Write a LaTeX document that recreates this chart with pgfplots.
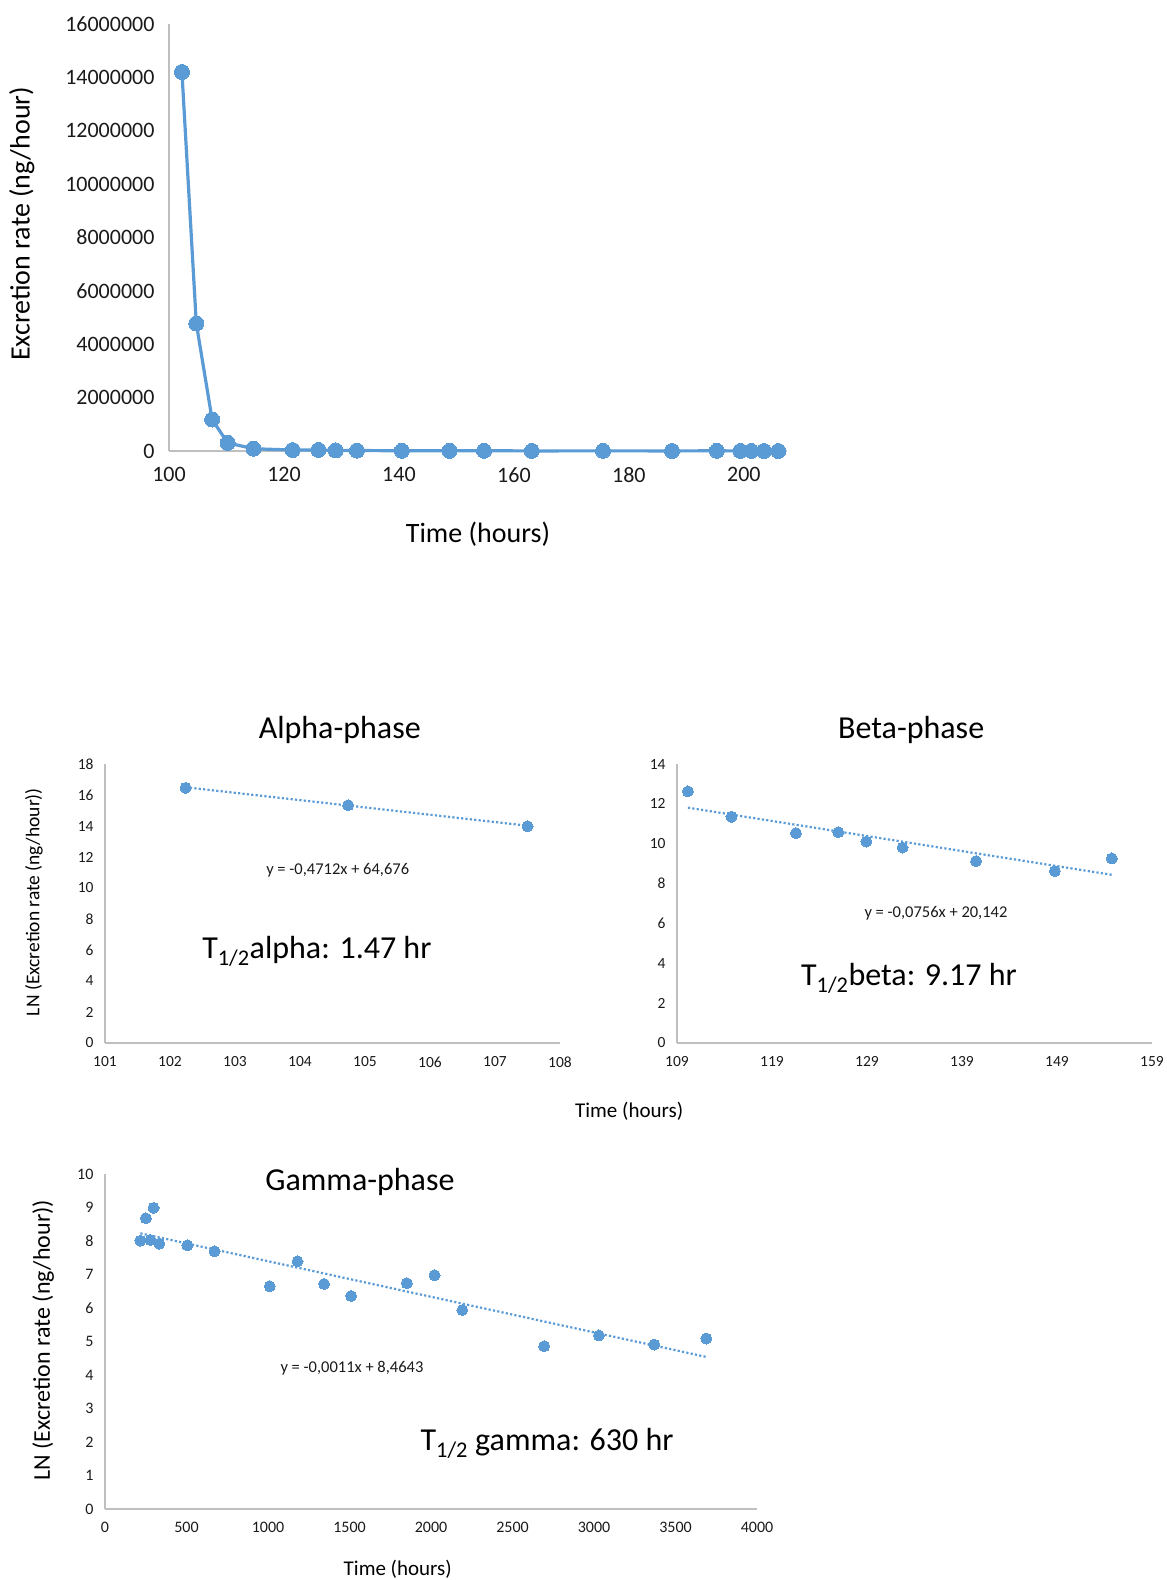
\documentclass[border=0pt]{standalone}
\usepackage{fontspec}
\setmainfont{Carlito}
\usepackage{pgfplots}
\pgfplotsset{compat=1.18}
\definecolor{xblue}{HTML}{5B9BD5}
\definecolor{xgray}{HTML}{BFBFBF}
\definecolor{xtext}{HTML}{1A1A1A}
\newcommand{\fs}[1]{\fontsize{#1}{#1}\selectfont}
\pgfplotsset{
  excel/.style={
    scale only axis,
    axis lines=left,
    axis line style={-, draw=xgray, line width=1.6pt},
    every inner x axis line/.append style={-},
    every outer x axis line/.append style={-},
    every inner y axis line/.append style={-},
    every outer y axis line/.append style={-},
    major tick length=0pt,
    tick style={draw=none},
    /pgf/number format/assume math mode=true,
    /pgf/number format/1000 sep={},
    scaled ticks=false,
    clip=false,
    anchor=south west,
  },
  sub/.style={
    excel,
    ticklabel style={font=\fs{15.5}, text=xtext},
    xticklabel style={yshift=-10pt},
    yticklabel style={xshift=-8pt},
  },
  dots/.style={only marks, mark=*, mark size=5.5pt, mark options={draw=xblue, fill=xblue, line width=0pt}},
  trend/.style={xblue, line width=2.2pt, dash pattern=on 2.2pt off 2.2pt, mark=none},
}
\begin{document}
\begin{tikzpicture}
\path[use as bounding box] (0pt,0pt) rectangle (1167pt,-1580pt);

% ---------- top chart ----------
\begin{axis}[excel,
  at={(169pt,-451pt)}, width=618pt, height=427pt,
  xmin=100, xmax=207.5, ymin=0, ymax=16000000,
  xtick={100,120,140,160,180,200},
  ytick={0,2000000,4000000,6000000,8000000,10000000,12000000,14000000,16000000},
  yticklabels={0,2000000,4000000,6000000,8000000,10000000,12000000,14000000,16000000},
  ticklabel style={font=\fs{22}, text=xtext},
  xticklabel style={yshift=-13pt},
  yticklabel style={xshift=-11pt},
  xlabel={Time (hours)},
  ylabel={Excretion rate (ng/hour)},
  xlabel style={at={(axis description cs:0.5,-0.194)}, anchor=center, font=\fs{28}},
  ylabel style={at={(axis description cs:-0.238,0.532)}, anchor=center, font=\fs{28}},
]
\addplot[xblue, line width=3.2pt, mark=*, mark size=7.5pt, mark options={draw=xblue, fill=xblue, line width=0pt}] coordinates {
(102.25,14200000) (104.75,4780000) (107.5,1180000) (110.2,305000) (114.7,85000)
(121.5,37000) (126.0,39000) (129.0,24600) (132.7,18200) (140.5,9200)
(148.8,5600) (154.8,10500) (163.1,3000) (175.5,5900) (187.5,3100)
(195.3,8000) (199.4,2800) (201.3,2600) (203.5,2200) (206.0,770)
};
\end{axis}

% ---------- alpha ----------
\begin{axis}[sub,
  at={(105pt,-1043pt)}, width=455pt, height=279pt,
  xmin=101, xmax=108, ymin=0, ymax=18,
  xtick={101,...,108}, ytick={0,2,...,18},
  title={Alpha-phase},
  title style={at={(axis description cs:0.516,1.10)}, anchor=center, font=\fs{32}},
  xlabel={Time (hours)},
  xlabel style={at={(axis description cs:1.152,-0.244)}, anchor=center, font=\fs{21}},
  ylabel={LN (Excretion rate (ng/hour))},
  ylabel style={at={(axis description cs:-0.156,0.505)}, anchor=center, font=\fs{19.5}},
]
\addplot[trend] coordinates {(102.24,16.50) (107.5,14.02)};
\addplot[dots] coordinates {(102.24,16.46) (104.74,15.34) (107.5,13.99)};
\node[font=\fs{16.5}, text=xtext] at (axis cs:104.58,11.16) {y = -0,4712x + 64,676};
\node[font=\fs{32}] at (axis cs:104.26,5.94) {T\textsubscript{1/2}alpha: 1.47 hr};
\end{axis}

% ---------- beta ----------
\begin{axis}[sub,
  at={(677pt,-1043pt)}, width=475pt, height=279pt,
  xmin=109, xmax=159, ymin=0, ymax=14,
  xtick={109,119,...,159}, ytick={0,2,...,14},
  title={Beta-phase},
  title style={at={(axis description cs:0.493,1.10)}, anchor=center, font=\fs{32}},
]
\addplot[trend] coordinates {(110.15,11.81) (154.77,8.44)};
\addplot[dots] coordinates {
(110.15,12.63) (114.73,11.35) (121.52,10.53) (125.98,10.58) (128.94,10.11)
(132.74,9.81) (140.48,9.13) (148.77,8.63) (154.77,9.26)
};
\node[font=\fs{16.5}, text=xtext] at (axis cs:136.26,6.52) {y = -0,0756x + 20,142};
\node[font=\fs{32}] at (axis cs:133.42,3.26) {T\textsubscript{1/2}beta: 9.17 hr};
\end{axis}

% ---------- gamma ----------
\begin{axis}[sub,
  at={(105pt,-1509pt)}, width=652pt, height=335pt,
  xmin=0, xmax=4000, ymin=0, ymax=10,
  xtick={0,500,...,4000}, ytick={0,1,...,10},
  ticklabel style={font=\fs{16}},
  xlabel={Time (hours)},
  xlabel style={at={(axis description cs:0.449,-0.179)}, anchor=center, font=\fs{21}},
  ylabel={LN (Excretion rate (ng/hour))},
  ylabel style={at={(axis description cs:-0.095,0.504)}, anchor=center, font=\fs{24}},
]
\addplot[trend] coordinates {(217,8.23) (3689,4.54)};
\addplot[dots] coordinates {
(217,8.01) (251,8.68) (279,8.03) (298,8.99) (333,7.92) (505,7.87) (672,7.69)
(1011,6.65) (1181,7.39) (1344,6.72) (1510,6.36) (1852,6.74) (2022,6.98)
(2192,5.94) (2694,4.86) (3030,5.18) (3369,4.91) (3689,5.09)
};
\node[font=\fs{32}] at (axis cs:1564,9.76) {Gamma-phase};
\node[font=\fs{16.5}, text=xtext] at (axis cs:1515,4.21) {y = -0,0011x + 8,4643};
\node[font=\fs{32}] at (axis cs:2712,1.97) {T\textsubscript{1/2} gamma: 630 hr};
\end{axis}
\end{tikzpicture}
\end{document}
